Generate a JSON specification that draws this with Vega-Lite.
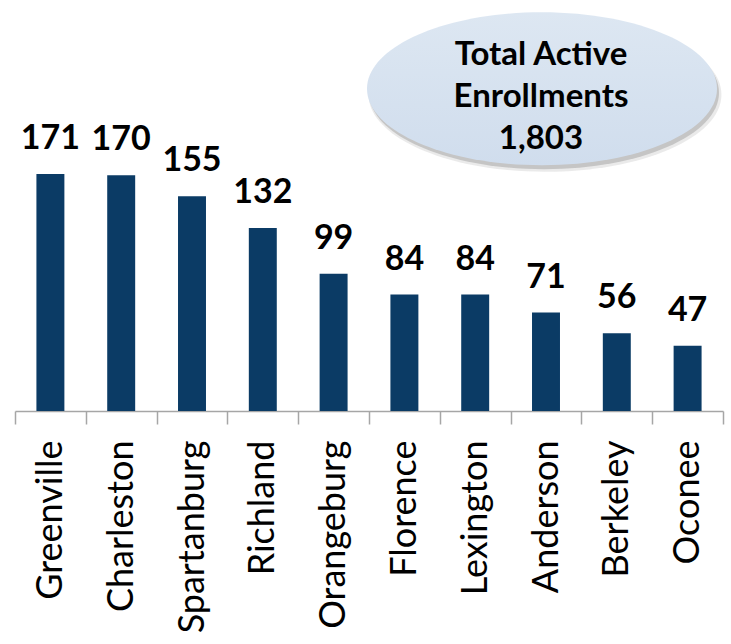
{
  "$schema": "https://vega.github.io/schema/vega-lite/v6.json",
  "autosize": {"type": "none"},
  "width": 708,
  "height": 411,
  "padding": {"left": 15, "top": 0, "right": 8, "bottom": 233},
  "background": "white",
  "config": {"view": {"stroke": null}, "font": "Lato"},
  "datasets": {
    "counties": [
      {"county": "Greenville", "enrollments": 171},
      {"county": "Charleston", "enrollments": 170},
      {"county": "Spartanburg", "enrollments": 155},
      {"county": "Richland", "enrollments": 132},
      {"county": "Orangeburg", "enrollments": 99},
      {"county": "Florence", "enrollments": 84},
      {"county": "Lexington", "enrollments": 84},
      {"county": "Anderson", "enrollments": 71},
      {"county": "Berkeley", "enrollments": 56},
      {"county": "Oconee", "enrollments": 47}
    ],
    "note": [
      {"county": "Anderson", "pos": 232.5, "label": "Total Active\nEnrollments\n1,803"}
    ]
  },
  "layer": [
    {
      "data": {"name": "counties"},
      "mark": {"type": "bar", "color": "#0b3b65", "width": {"band": 0.395}},
      "encoding": {
        "x": {
          "field": "county", "type": "nominal", "sort": null,
          "scale": {"paddingInner": 0, "paddingOuter": 0},
          "axis": {
            "title": null, "orient": "bottom", "labelAngle": -90,
            "labelFont": "Lato", "labelFontSize": 36, "labelColor": "#000000",
            "labelPadding": 16, "tickBand": "extent", "tickSize": 13, "labelLimit": 0,
            "tickColor": "#a6a6a6", "tickWidth": 1.5, "domainColor": "#a6a6a6",
            "domainWidth": 1.5, "labelOverlap": false, "labelBound": false, "labelFlush": false
          }
        },
        "y": {
          "field": "enrollments", "type": "quantitative",
          "scale": {"domain": [0, 296.5], "nice": false, "zero": true},
          "axis": null
        }
      }
    },
    {
      "data": {"name": "counties"},
      "mark": {"type": "text", "font": "Lato", "fontWeight": "bold", "fontSize": 34, "baseline": "alphabetic", "align": "center", "dy": -25, "color": "#000000"},
      "encoding": {
        "x": {"field": "county", "type": "nominal", "sort": null},
        "y": {"field": "enrollments", "type": "quantitative"},
        "text": {"field": "enrollments", "type": "quantitative"}
      }
    },
    {
      "data": {"name": "note"},
      "mark": {"type": "point", "shape": "M -1 0 C -1 -0.241 -0.552 -0.437 0 -0.437 C 0.552 -0.437 1 -0.241 1 0 C 1 0.241 0.552 0.437 0 0.437 C -0.552 0.437 -1 0.241 -1 0 Z", "size": 124500, "filled": true, "color": "#7f7f7f", "opacity": 0.16, "xOffset": -1, "yOffset": 6, "strokeWidth": 0},
      "encoding": {
        "x": {"field": "county", "type": "nominal", "sort": null},
        "y": {"field": "pos", "type": "quantitative"}
      }
    },
    {
      "data": {"name": "note"},
      "mark": {"type": "point", "shape": "M -1 0 C -1 -0.241 -0.552 -0.437 0 -0.437 C 0.552 -0.437 1 -0.241 1 0 C 1 0.241 0.552 0.437 0 0.437 C -0.552 0.437 -1 0.241 -1 0 Z", "size": 122500, "filled": true, "color": "#6f6f6f", "opacity": 0.3, "xOffset": -2, "yOffset": 4, "strokeWidth": 0},
      "encoding": {
        "x": {"field": "county", "type": "nominal", "sort": null},
        "y": {"field": "pos", "type": "quantitative"}
      }
    },
    {
      "data": {"name": "note"},
      "mark": {"type": "point", "shape": "M -1 0 C -1 -0.241 -0.552 -0.437 0 -0.437 C 0.552 -0.437 1 -0.241 1 0 C 1 0.241 0.552 0.437 0 0.437 C -0.552 0.437 -1 0.241 -1 0 Z", "size": 122500, "filled": true, "opacity": 1, "strokeWidth": 0, "xOffset": -4,
        "fill": {"gradient": "linear", "x1": 0, "y1": 0, "x2": 0, "y2": 1, "stops": [{"offset": 0, "color": "#dde7f2"}, {"offset": 1, "color": "#d0dded"}]}},
      "encoding": {
        "x": {"field": "county", "type": "nominal", "sort": null},
        "y": {"field": "pos", "type": "quantitative"}
      }
    },
    {
      "data": {"name": "note"},
      "mark": {"type": "text", "font": "Lato", "fontWeight": "bold", "fontSize": 33, "align": "center", "baseline": "middle", "lineHeight": 42, "lineBreak": "\n", "dx": -5, "dy": -33.5, "color": "#000000"},
      "encoding": {
        "x": {"field": "county", "type": "nominal", "sort": null},
        "y": {"field": "pos", "type": "quantitative"},
        "text": {"field": "label", "type": "nominal"}
      }
    }
  ]
}
